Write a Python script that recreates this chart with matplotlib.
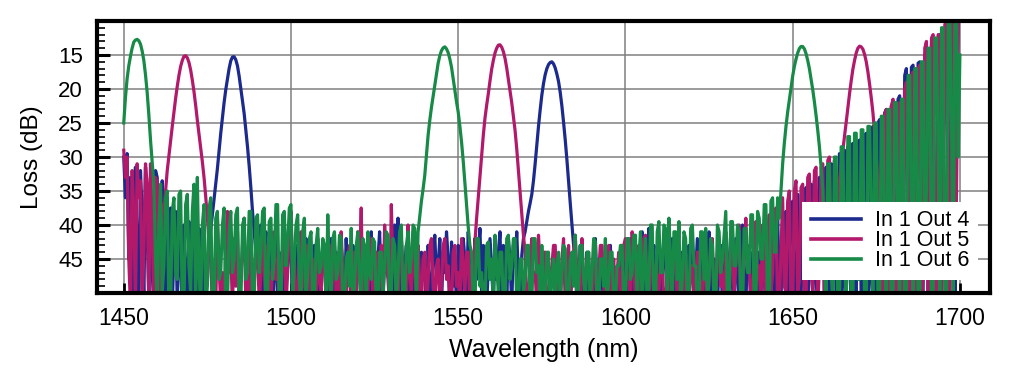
import numpy as np
import matplotlib
matplotlib.use("Agg")
import matplotlib.pyplot as plt
from matplotlib.ticker import MultipleLocator

# ---- data: wavelength grid 1450..1700 nm, 0.5 nm step (20 values per 10 nm row) ----
wl_start, wl_end, wl_step = 1450, 1700, 0.5
series_labels = ["In 1 Out 4", "In 1 Out 5", "In 1 Out 6"]

loss_out4 = [
    30, 36, 29.5, 45, 33, 52, 35, 31.5, 44, 52, 32, 38, 52, 31.5, 40, 52, 33, 47, 52, 32,          # 1450
    33, 50, 52, 33.5, 45, 52, 36, 49, 37.5, 52, 44, 38, 52, 39, 46, 52, 40, 48, 52, 39.5,          # 1460
    44, 52, 41, 47, 52, 40.5, 50, 42, 52, 45, 48, 42.5, 40.7, 38.4, 36.2, 34, 31.7, 29.1, 26.5, 24.2,  # 1470
    22, 20.1, 18.5, 17, 15.85, 15.3, 15.25, 15.7, 16.6, 18.1, 19.9, 21.7, 23.6, 26, 28.5, 31.3, 34.5, 38, 41, 44,  # 1480
    43, 49, 40, 52, 45, 41, 50, 44, 41, 52, 47, 40.5, 52, 44, 48, 52, 42, 49, 46, 43,              # 1490
    44, 52, 49, 43, 52, 45, 41.5, 48, 52, 42, 47, 50, 44, 52, 43, 47, 52, 45, 48, 44,              # 1500
    43, 51, 52, 46, 42, 49, 52, 44, 47, 52, 43, 46, 52, 42, 47, 45, 51, 43, 48, 52,                # 1510
    42, 48, 44, 52, 51, 43, 46, 52, 41, 49, 44, 52, 45, 41, 49, 52, 44, 47, 43, 50,                # 1520
    44, 52, 40, 46, 39, 52, 42, 48, 46, 43, 52, 45, 48, 52, 45, 43, 50, 52, 44, 48,                # 1530
    47, 52, 43, 49, 52, 44, 41.5, 48, 46, 42, 52, 44, 47, 41, 45, 52, 42.5, 49, 45, 52,            # 1540
    43, 48, 52, 42, 45, 50, 41, 47, 44, 52, 42, 48, 44, 40.5, 50, 43, 47, 52, 46, 42,              # 1550
    46, 52, 42, 48, 44, 41, 52, 43, 47, 52, 42, 45, 52, 43, 46, 41, 48, 52, 44.5, 42,              # 1560
    41, 39.5, 38, 36.8, 35.5, 33.5, 31, 28.2, 25.5, 23.1, 20.9, 19.2, 17.9, 17, 16.4, 16.1, 16.0, 16.3, 16.9, 17.8,  # 1570
    18.9, 20.5, 22.5, 24.9, 27.5, 30.4, 33.5, 36.8, 40, 43, 45, 52, 48, 43, 52, 47, 51, 44, 49, 52,  # 1580
    47, 52, 42, 49, 52, 45, 48, 52, 44, 50, 48, 43, 52, 46, 50, 52, 46, 44, 52, 48,                # 1590
    44, 52, 49, 42, 47, 52, 43, 48, 51, 44, 41, 52, 44, 47, 40.5, 52, 46, 43, 52, 45,              # 1600
    43, 52, 48, 41.5, 45, 52, 50, 44, 42, 52, 46, 49, 43, 52, 44, 48, 49, 52, 43, 47,              # 1610
    43, 52, 47, 42, 52, 45, 51, 44, 52, 46, 41, 48, 52, 45, 48, 52, 45, 43, 52, 47,                # 1620
    43, 52, 46, 41, 49, 52, 42, 47, 52, 44, 40, 50, 52, 43, 45, 52, 44, 48, 41, 52,                # 1630
    44, 52, 41, 48, 52, 40, 47, 52, 40, 49, 52, 39, 48, 52, 38.5, 45, 38, 52, 47, 37,              # 1640
    36.5, 52, 50, 35.5, 47, 52, 35, 49, 34.5, 52, 45, 34, 52, 33.5, 48, 52, 33, 46, 32.5, 52,      # 1650
    31.5, 50, 52, 31, 46, 30.5, 52, 44, 29.5, 52, 48, 29, 52, 28.5, 45, 52, 28, 47, 51, 27.8,      # 1660
    27.5, 52, 44, 27, 26.5, 52, 48, 26, 25.5, 52, 47, 25, 24.5, 52, 46, 23.5, 23, 52, 43, 22.5,    # 1670
    22, 52, 50, 21.5, 21, 52, 40, 18, 17, 52, 45, 16.8, 16.5, 52, 38, 16.2, 16, 52, 50, 15,        # 1680
    14, 52, 36, 13.5, 13, 52, 48, 12.5, 12, 52, 30, 11, 10.5, 52, 45, 10, 9.5, 52, 28, 9,          # 1690
    9,                                                                                             # 1700
]

loss_out5 = [
    29, 33, 30, 45, 52, 32, 38, 52, 31, 36, 33.5, 52, 44, 31, 34, 52, 31, 40, 52, 33,              # 1450
    34, 46, 52, 37, 38, 35, 32, 29.8, 27.6, 25.5, 23.4, 21.4, 19.6, 18, 16.7, 15.8, 15.2, 15.1, 15.4, 16.1,  # 1460
    17.2, 18.7, 20.4, 22.4, 24.6, 26.6, 28.6, 30.7, 33, 35.8, 39, 42.5, 45, 52, 48, 52, 39, 46, 52, 47,  # 1470
    52, 44, 38, 47, 44, 52, 42, 49, 41, 52, 48, 43, 39, 52, 45, 52, 43, 47, 49, 44,                # 1480
    42, 52, 47, 40, 47, 52, 43, 50, 52, 45, 41, 48, 45, 52, 50, 44, 42, 52, 47, 40,                # 1490
    38, 46, 45, 52, 52, 43, 41, 49, 48, 52, 43, 47, 52, 45, 46, 52, 42, 48, 50, 44,                # 1500
    44, 52, 47, 43, 52, 46, 43, 50, 46, 52, 41, 47, 49, 52, 45, 43, 52, 48, 44, 51,                # 1510
    41, 46, 37.5, 52, 45, 49, 50, 43, 42, 52, 47, 44, 52, 48, 43, 52, 40, 46, 48, 52,              # 1520
    37, 47, 44, 52, 52, 45, 42, 48, 46, 52, 40, 47, 50, 43, 45, 52, 43, 49, 52, 45,                # 1530
    44, 52, 48, 43, 42, 49, 52, 46, 45, 52, 49, 43, 42, 48, 46, 52, 52, 44, 43, 49,                # 1540
    47, 52, 42, 46, 50, 44, 44, 52, 46, 49, 42.5, 39, 35.9, 32.7, 29.5, 26.8, 24.3, 22.4, 20.7, 18.8,  # 1550
    17.1, 15.8, 14.7, 14, 13.55, 13.5, 13.85, 14.5, 15.5, 16.9, 18.6, 20.2, 22, 24, 26.1, 28.8, 32, 35.2, 38.5, 41.5,  # 1560
    44, 52, 52, 45, 42, 48, 47, 52, 41.5, 46, 50, 44, 44, 52, 52, 47, 46, 43, 43, 50,              # 1570
    49, 52, 45, 42, 52, 47, 43, 52, 48, 44, 41.5, 47, 46, 52, 42, 48, 50, 45, 44, 52,              # 1580
    52, 46, 45, 52, 47, 43, 43, 49, 51, 44, 43, 52, 48, 45, 52, 47, 44, 52, 49, 43,                # 1590
    42, 47, 48, 52, 41, 45, 52, 46, 43, 52, 47, 42, 41.5, 50, 52, 45, 44, 52, 46, 48,              # 1600
    50, 45, 45, 52, 52, 47, 46, 50, 48, 44, 44, 52, 52, 46, 47, 52, 45, 49, 51, 46,                # 1610
    46, 52, 49, 44, 44, 50, 52, 46, 45, 52, 48, 43, 42, 52, 51, 44, 43, 49, 47, 52,                # 1620
    41, 47, 52, 42, 43, 50, 46, 42, 40, 52, 50, 44, 39, 46, 45, 52, 52, 42, 39.5, 48,              # 1630
    46, 52, 40, 47, 52, 42, 38.5, 50, 47, 38, 37.5, 52, 52, 44, 36, 49, 50, 36.5, 35, 52,          # 1640
    52, 35, 33.5, 50, 48, 34.5, 34, 52, 52, 33, 32.5, 47, 50, 32, 31.5, 52, 46, 31.5, 31, 52,      # 1650
    52, 30.5, 30, 48, 45, 40, 38, 35.8, 33.5, 31.2, 29, 27, 24.9, 22.8, 20.7, 18.8, 17.1, 15.8, 14.7, 14,  # 1660
    13.7, 13.8, 14.15, 14.9, 16.0, 17.5, 19.3, 21.3, 23.5, 26.5, 30, 33.5, 37, 45, 50, 24, 23, 52, 45, 22.5,  # 1670
    21.5, 48, 52, 22.5, 22, 52, 40, 20, 19, 52, 52, 18, 17.5, 50, 44, 17, 16.5, 52, 47, 14,        # 1680
    13, 52, 38, 12.5, 12, 52, 50, 12, 12.5, 52, 30, 10.5, 10, 52, 52, 9.8, 9.5, 45, 35, 9.5,       # 1690
    9,                                                                                             # 1700
]

loss_out6 = [
    25, 21.3, 18.5, 16.6, 15.2, 14, 13.1, 12.8, 12.7, 12.9, 13.4, 14.4, 15.8, 17.9, 20.5, 23.8, 27.5, 30.8, 34, 45,  # 1450
    52, 40, 34, 50, 46, 36, 35, 52, 52, 38, 36, 47, 48, 35.5, 35, 52, 52, 37, 35.5, 46,            # 1460
    50, 38, 34, 52, 33, 47, 52, 40, 37, 52, 49, 37.5, 36, 52, 52, 39, 38, 48, 47, 40,              # 1470
    37.5, 52, 52, 41, 38, 47, 45, 38.5, 37.5, 52, 52, 40, 39, 48, 47, 38, 38, 52, 52, 39,          # 1480
    38.5, 47, 44, 38, 37.5, 52, 50, 39.5, 39, 48, 45, 37, 37, 52, 52, 38.5, 38, 46, 43, 37.5,      # 1490
    37, 52, 45, 40, 38.5, 48, 52, 41, 39, 52, 47, 42, 41, 52, 52, 43, 40.5, 47, 46, 42,            # 1500
    43, 52, 38.5, 47, 52, 42, 41, 48, 47, 41.5, 42, 52, 52, 45, 44, 49, 40.5, 52, 49, 43,          # 1510
    41, 48, 52, 42, 43, 52, 41, 47, 48, 42, 42.5, 52, 52, 44, 44, 50, 46, 41, 41.5, 52,            # 1520
    50, 42, 43, 52, 47, 41, 40, 52, 52, 43, 41, 47, 45, 40, 40.5, 52, 41, 38.8, 36.5, 34.7,        # 1530
    32.7, 29.8, 26.8, 24.6, 22.7, 21.1, 19.6, 17.8, 16.2, 15.1, 14.35, 13.95, 13.8, 14.1, 14.65, 15.6, 16.8, 18.5, 20.3, 21.9,  # 1540
    23.4, 25.5, 27.8, 30.6, 33.8, 37, 40.3, 43, 44, 52, 52, 42, 42, 49, 47, 52, 52, 43, 42.5, 48,  # 1550
    45, 52, 41.5, 46, 50, 44, 44, 52, 52, 42, 41.5, 48, 46, 42, 42, 52, 52, 45, 45, 50,            # 1560
    48, 43, 43, 52, 52, 42, 42, 47, 46, 52, 43, 50, 52, 44, 44, 52, 48, 45, 52, 46,                # 1570
    44, 52, 47, 43, 43.5, 52, 52, 45, 44, 49, 41.5, 52, 49, 43, 43, 48, 52, 44, 44, 52,            # 1580
    47, 42, 42.5, 52, 52, 45, 45, 49, 42, 52, 48, 44, 44, 52, 52, 46, 46, 43, 43, 52,              # 1590
    52, 42, 42, 48, 47, 41.5, 41.5, 52, 45, 41, 52, 46, 42, 52, 49, 40, 40, 52, 52, 41,            # 1600
    39.5, 47, 47, 40, 40.5, 52, 39, 45, 52, 41, 41, 48, 39.5, 52, 48, 41, 42, 52, 52, 40.5,        # 1610
    40, 46, 46, 52, 52, 41, 41, 48, 40.5, 52, 48, 42, 43, 52, 52, 40, 41, 47, 45, 41.5,            # 1620
    38, 52, 52, 39.5, 39.5, 46, 46, 40, 41, 52, 52, 40.5, 40.5, 47, 47, 38.5, 38.5, 52, 52, 38,    # 1630
    39, 45, 45, 37, 37, 52, 52, 36.5, 36, 44, 44, 36, 39, 35, 31, 28, 25.5, 23.4, 21.6, 19.8,      # 1640
    18.1, 16.7, 15.6, 14.7, 14.05, 13.75, 13.75, 14.1, 14.8, 15.8, 17.0, 18.5, 20.1, 21.9, 23.9, 26.1, 28.5, 31.5, 34.7, 45,  # 1650
    52, 31, 31, 46, 52, 30, 30, 52, 52, 28.5, 28.5, 44, 52, 27, 27, 52, 52, 26.5, 26.5, 48,        # 1660
    48, 26, 26, 52, 52, 25.5, 25.5, 40, 52, 25, 25, 52, 52, 24, 24, 45, 52, 23, 23, 52,            # 1670
    52, 22, 22, 42, 52, 21.5, 21.5, 52, 52, 18, 18, 38, 52, 17, 17, 52, 52, 16, 16, 45,            # 1680
    35, 14, 14, 52, 52, 12.5, 12.5, 30, 52, 11, 11, 52, 52, 9.5, 9.5, 25, 52, 9, 9, 30,            # 1690
    15,                                                                                            # 1700
]

wavelength = np.arange(wl_start, wl_end + wl_step / 2, wl_step)
for s in (loss_out4, loss_out5, loss_out6):
    assert len(s) == len(wavelength), (len(s), len(wavelength))

x_ticks = [1450, 1500, 1550, 1600, 1650, 1700]
y_ticks = [15, 20, 25, 30, 35, 40, 45]
colors = ["#1c2a8e", "#b3196b", "#178a47"]

# ---- figure ----
fig = plt.figure(figsize=(10.23, 3.69), dpi=100)
ax = fig.add_axes([97 / 1023, 1 - 293 / 369, 893 / 1023, 272 / 369])

for ys, c, lab in zip((loss_out4, loss_out5, loss_out6), colors, series_labels):
    ax.plot(wavelength, ys, color=c, lw=2.3, label=lab)

ax.set_xlim(1442, 1709)
ax.set_ylim(50, 10)
ax.set_xticks(x_ticks)
ax.set_yticks(y_ticks)
ax.yaxis.set_minor_locator(MultipleLocator(1))
ax.grid(True, which="major", color="#808080", lw=1.1)
ax.set_axisbelow(True)

for sp in ax.spines.values():
    sp.set_linewidth(3)
    sp.set_color("black")
    sp.set_zorder(5)

tick_font = ["Liberation Sans Narrow", "Liberation Sans", "DejaVu Sans"]
ax.tick_params(axis="y", which="major", direction="in", length=9.5, width=2.2,
               pad=10, labelsize=16)
ax.tick_params(axis="y", which="minor", direction="in", length=6, width=1.2)
ax.tick_params(axis="x", which="major", direction="in", length=7, width=2,
               pad=10, labelsize=16.5)
for lbl in ax.get_xticklabels() + ax.get_yticklabels():
    lbl.set_family(tick_font)

ax.set_xlabel("Wavelength (nm)", fontsize=18, family=["Liberation Sans", "DejaVu Sans"], labelpad=6)
ax.set_ylabel("Loss (dB)", fontsize=17.5, family=["Liberation Sans", "DejaVu Sans"], labelpad=11)

leg = ax.legend(loc="lower left", bbox_to_anchor=(0.79, 0.048), borderaxespad=0,
                frameon=True, fancybox=False, framealpha=1, facecolor="white",
                edgecolor="none", prop={"family": "Liberation Sans", "size": 15.5},
                handlelength=2.3, handletextpad=0.65, labelspacing=-0.05, borderpad=0.4)
leg.set_zorder(4)
for h in leg.get_lines():
    h.set_linewidth(2.6)

fig.savefig("out.png", dpi=100)
